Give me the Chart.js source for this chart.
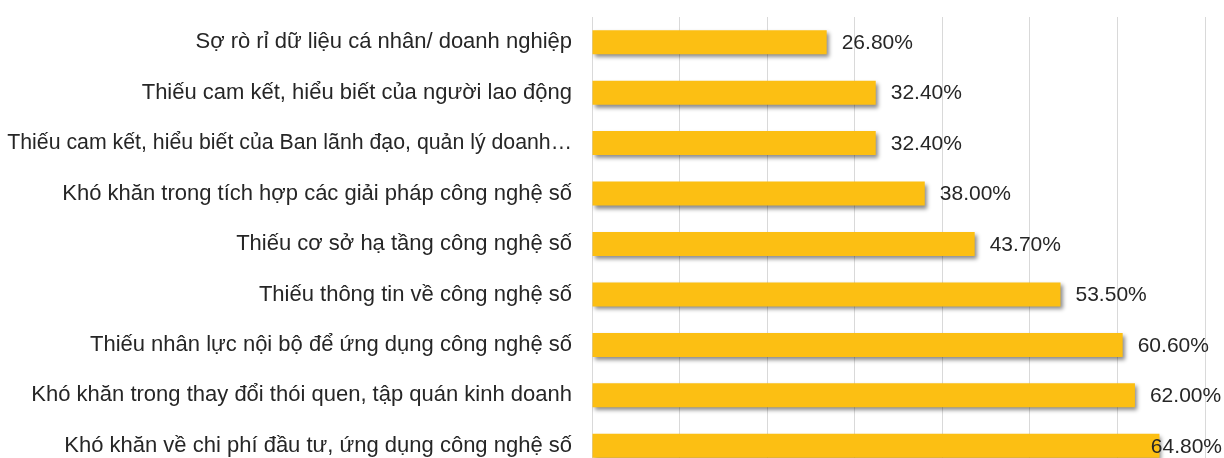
<!DOCTYPE html>
<html lang="vi">
<head>
    <meta charset="UTF-8">
    <title>Khó khăn chuyển đổi số</title>
    <style>
        body {
            margin: 0;
            overflow: hidden;
            background: #fff;
            font-family: "Liberation Sans", Arial, sans-serif;
        }
    </style>
    <script src="https://cdn.jsdelivr.net/npm/chart.js"></script>
</head>
<body>
    <canvas id="barChart" width="1224" height="472"></canvas>

    <script>
        // Dữ liệu
        const categories = [
            'Sợ rò rỉ dữ liệu cá nhân/ doanh nghiệp',
            'Thiếu cam kết, hiểu biết của người lao động',
            'Thiếu cam kết, hiểu biết của Ban lãnh đạo, quản lý doanh…',
            'Khó khăn trong tích hợp các giải pháp công nghệ số',
            'Thiếu cơ sở hạ tầng công nghệ số',
            'Thiếu thông tin về công nghệ số',
            'Thiếu nhân lực nội bộ để ứng dụng công nghệ số',
            'Khó khăn trong thay đổi thói quen, tập quán kinh doanh',
            'Khó khăn về chi phí đầu tư, ứng dụng công nghệ số'
        ];
        const values = [26.8, 32.4, 32.4, 38.0, 43.7, 53.5, 60.6, 62.0, 64.8];
        const axisMin = 0;
        const axisMax = 70;
        const axisStep = 10;

        // bóng đổ cho các cột
        const barShadow = {
            id: 'barShadow',
            beforeDatasetsDraw(chart) {
                const c = chart.ctx;
                c.save();
                c.shadowColor = 'rgba(0,0,0,0.45)';
                c.shadowBlur = 4;
                c.shadowOffsetX = 2;
                c.shadowOffsetY = 3;
            },
            afterDatasetsDraw(chart) {
                chart.ctx.restore();
            }
        };

        // nhãn giá trị ở cuối cột
        const valueLabels = {
            id: 'valueLabels',
            afterDatasetsDraw(chart) {
                const c = chart.ctx;
                const meta = chart.getDatasetMeta(0);
                c.save();
                c.font = '21px "Liberation Sans", Arial, sans-serif';
                c.fillStyle = '#262626';
                c.textBaseline = 'middle';
                meta.data.forEach((bar, i) => {
                    const txt = values[i].toFixed(2) + '%';
                    const w = c.measureText(txt).width;
                    let x = bar.x + 15;
                    if (x + w > chart.width - 2) x = chart.width - 2 - w;
                    c.fillText(txt, x, bar.y + 1);
                });
                c.restore();
            }
        };

        const ctx = document.getElementById('barChart').getContext('2d');
        new Chart(ctx, {
            type: 'bar',
            data: {
                labels: categories,
                datasets: [{
                    data: values,
                    backgroundColor: '#FCBF13',
                    borderWidth: 0,
                    barPercentage: 0.476,
                    categoryPercentage: 1
                }]
            },
            options: {
                indexAxis: 'y',
                responsive: false,
                animation: false,
                layout: { padding: { top: 17, right: 19, bottom: 1, left: 0 } },
                plugins: {
                    legend: { display: false },
                    tooltip: { enabled: false }
                },
                scales: {
                    x: {
                        min: axisMin,
                        max: axisMax,
                        ticks: { display: false, stepSize: axisStep },
                        grid: { color: '#d9d9d9', drawTicks: false },
                        border: { display: false },
                        afterFit(scale) { scale.height = 0; }
                    },
                    y: {
                        ticks: {
                            color: '#262626',
                            // nhãn bị cắt ngắn hơi hẹp hơn trong bản gốc
                            font: (c) => ({
                                family: '"Liberation Sans", Arial, sans-serif',
                                size: c.index === 2 ? 21.3 : 22
                            }),
                            padding: 20
                        },
                        grid: { display: false, drawTicks: false },
                        border: { color: '#d9d9d9' },
                        afterFit(scale) {
                            scale.width = 592;
                            scale.paddingTop = 0;
                            scale.paddingBottom = 0;
                        }
                    }
                }
            },
            plugins: [barShadow, valueLabels]
        });
    </script>
</body>
</html>
